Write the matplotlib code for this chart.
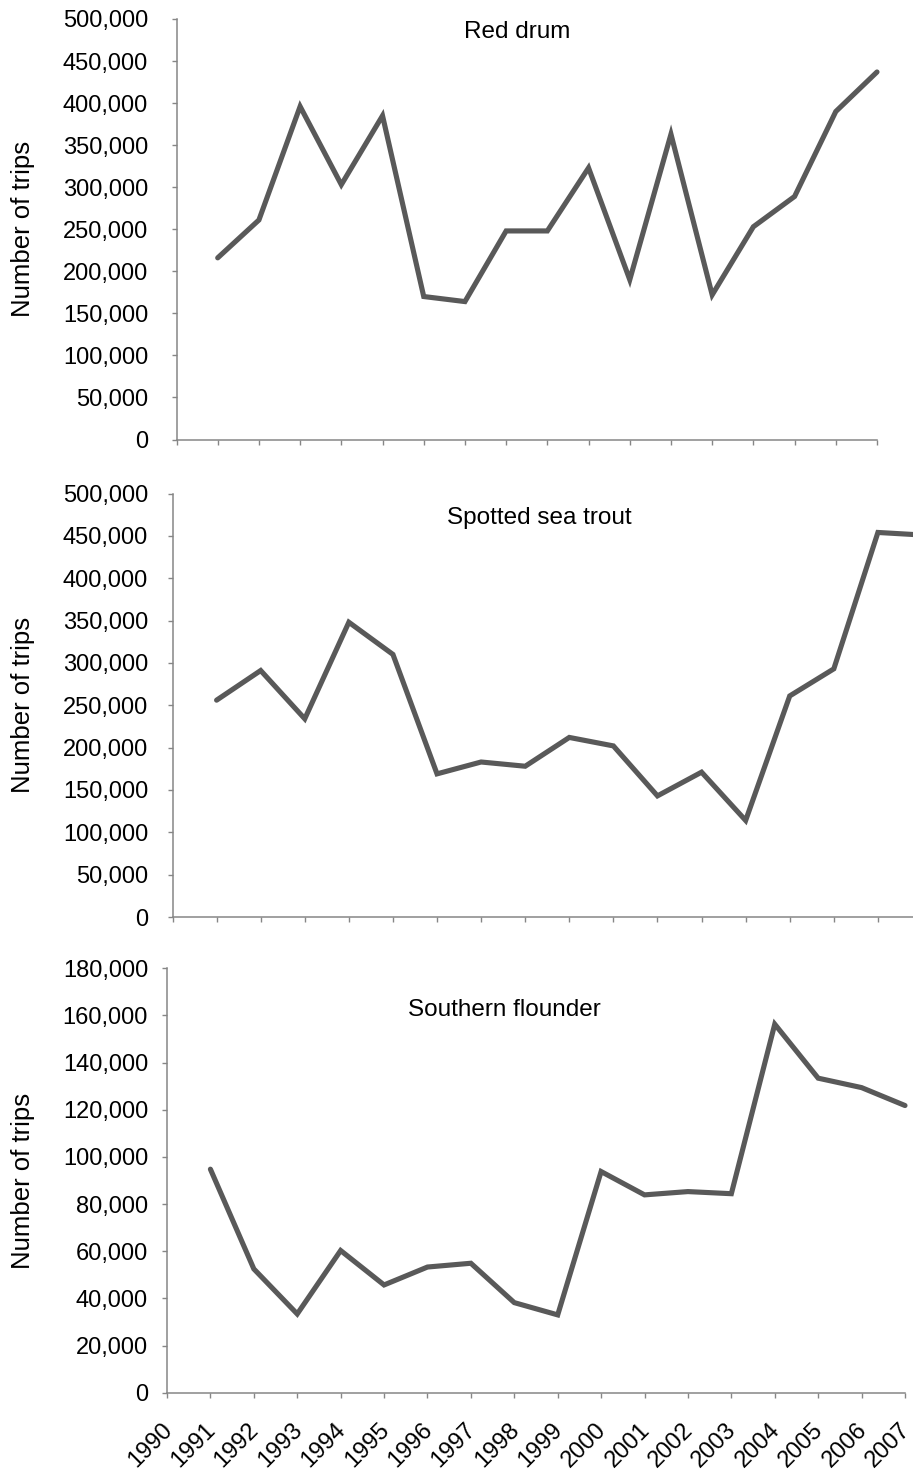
import matplotlib
matplotlib.use('Agg')
import matplotlib.pyplot as plt
import matplotlib.transforms as mtransforms
from matplotlib.ticker import FuncFormatter, MultipleLocator

plt.rcParams['font.family'] = ['Liberation Sans', 'DejaVu Sans']

# data (number of trips per year)
years = list(range(1991, 2008))
tick_years = list(range(1990, 2008))

red_drum = [216000, 261000, 396000, 303000, 385000, 170000, 164000, 248000, 248000,
            323000, 190000, 363000, 172000, 253000, 289000, 390000, 437000]
sea_trout = [256000, 291000, 234000, 348000, 310000, 169000, 183000, 178000, 212000,
             202000, 143000, 171000, 114000, 261000, 293000, 454000, 451000]
flounder = [94800, 52500, 33400, 60300, 45700, 53300, 54900, 38200, 33000,
            93800, 83900, 85300, 84400, 156300, 133400, 129400, 121800]

titles = ['Red drum', 'Spotted sea trout', 'Southern flounder']
ylabel = 'Number of trips'
ymax = [500000, 500000, 180000]
ystep = [50000, 50000, 20000]

W, H = 913, 1472
fig = plt.figure(figsize=(W / 100, H / 100), dpi=100)

# axes boxes in pixels: left, top, right, bottom
boxes = [(176.5, 19, 877, 439.5), (172.5, 493.5, 922, 917), (167, 968.3, 905, 1392.7)]
# title position (axes fraction, baseline)
title_pos = [(0.487, 0.956), (0.49, 0.927), (0.457, 0.887)]

line_col = '#595959'
axis_col = '#868686'
fs_tick = 17

fmt = FuncFormatter(lambda v, p: f'{int(v):,}')

for i, series in enumerate([red_drum, sea_trout, flounder]):
    l, t, r, b = boxes[i]
    ax = fig.add_axes([l / W, 1 - b / H, (r - l) / W, (b - t) / H])
    ax.plot(years, series, color=line_col, lw=3.7, solid_capstyle='round',
            solid_joinstyle='miter', clip_on=False)
    ax.set_xlim(1990, 2007)
    ax.set_ylim(0, ymax[i])
    ax.set_xticks(tick_years)
    ax.yaxis.set_major_locator(MultipleLocator(ystep[i]))
    ax.yaxis.set_major_formatter(fmt)
    for s in ['top', 'right']:
        ax.spines[s].set_visible(False)
    for s in ['left', 'bottom']:
        ax.spines[s].set_color(axis_col)
        ax.spines[s].set_linewidth(1.1)
    pad_px = l - 5 - 148
    ax.tick_params(axis='y', direction='out', length=3.6, width=1, color=axis_col,
                   labelsize=fs_tick, pad=pad_px * 0.72)
    ax.tick_params(axis='x', direction='out', length=3.6, width=1, color=axis_col,
                   labelsize=fs_tick)
    if i < 2:
        ax.set_xticklabels([])
    else:
        ax.set_xticklabels([str(y) for y in tick_years], rotation=45, ha='right',
                           va='top', rotation_mode='anchor')
        ax.tick_params(axis='x', pad=15)
        shift = mtransforms.ScaledTranslation(-6 / 100, 0, fig.dpi_scale_trans)
        for lab in ax.get_xticklabels():
            lab.set_transform(lab.get_transform() + shift)
    ax.text(title_pos[i][0], title_pos[i][1], titles[i], transform=ax.transAxes,
            ha='center', va='baseline', fontsize=17.5)
    fig.text(23 / W, 1 - (t + b) / 2 / H, ylabel, rotation=90, ha='center', va='center',
             fontsize=18.5)

fig.savefig('out.png', dpi=100)
